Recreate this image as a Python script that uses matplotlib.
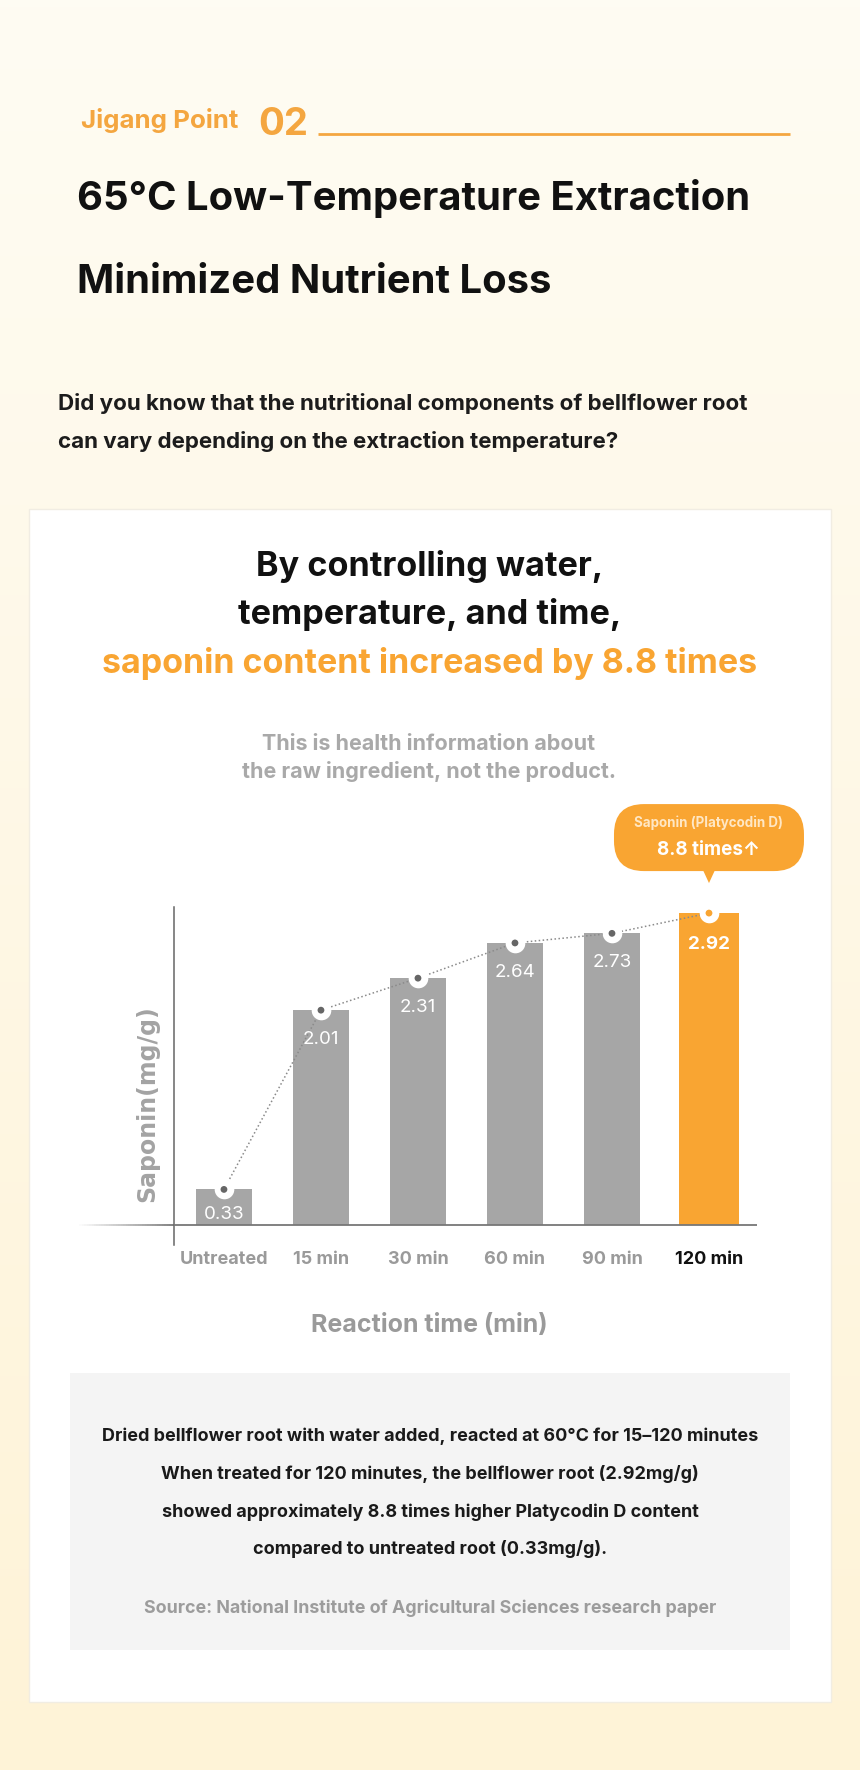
import matplotlib.pyplot as plt
import numpy as np
from matplotlib.collections import LineCollection
from matplotlib.colors import LinearSegmentedColormap, to_rgba
from matplotlib.patches import FancyBboxPatch, Polygon, Rectangle

# chart data
categories = ['Untreated', '15 min', '30 min', '60 min', '90 min', '120 min']
saponin = [0.33, 2.01, 2.31, 2.64, 2.73, 2.92]
highlight = '120 min'

# copy
kicker = 'Jigang Point'
point_no = '02'
title_lines = ['65°C Low-Temperature Extraction', 'Minimized Nutrient Loss']
question_lines = ['Did you know that the nutritional components of bellflower root',
                  'can vary depending on the extraction temperature?']
heading_lines = ['By controlling water,', 'temperature, and time,']
heading_accent = 'saponin content increased by 8.8 times'
note_lines = ['This is health information about', 'the raw ingredient, not the product.']
bubble_lines = ['Saponin (Platycodin D)', '8.8 times↑']
y_label = 'Saponin(mg/g)'
x_label = 'Reaction time (min)'
summary_lines = ['Dried bellflower root with water added, reacted at 60°C for 15–120 minutes',
                 'When treated for 120 minutes, the bellflower root (2.92mg/g)',
                 'showed approximately 8.8 times higher Platycodin D content',
                 'compared to untreated root (0.33mg/g).']
source = 'Source: National Institute of Agricultural Sciences research paper'

ORANGE = '#F9A532'
GRAY_BAR = '#A6A6A6'

plt.rcParams['font.family'] = ['Inter', 'DejaVu Sans']

W, H = 860, 1770
fig = plt.figure(figsize=(W / 100, H / 100), dpi=100)
renderer = fig.canvas.get_renderer()

bg = fig.add_axes([0, 0, 1, 1])
cream = LinearSegmentedColormap.from_list('cream', ['#FEFCF3', '#FEF3D7'])
bg.imshow(np.linspace(0, 1, 256)[:, None], cmap=cream, extent=(0, W, H, 0),
          aspect='auto', zorder=0)
bg.set_xlim(0, W)
bg.set_ylim(H, 0)
bg.axis('off')


def fit_size(s, width, **kw):
    # font size that gives the text the wanted pixel width
    t = bg.text(0, 0, s, fontsize=20, **kw)
    w = t.get_window_extent(renderer).width
    t.remove()
    return 20 * width / w


def text_block(lines, x, baselines, width, ref=0, **kw):
    size = fit_size(lines[ref], width, **kw)
    for line, y in zip(lines, baselines):
        bg.text(x, y, line, fontsize=size, va='baseline', **kw)


# header
text_block([kicker], 81, [128.3], 158, color='#F4A640', fontweight='bold')
text_block([point_no], 258, [135], 50, color='#F4A640', fontweight='bold')
bg.plot([318, 790], [133.5, 133.5], color='#F4A640', lw=2, solid_capstyle='butt')
text_block(title_lines, 77, [210, 293], 673, color='#111111', fontweight='bold')
text_block(question_lines, 58, [409.5, 448], 691, color='#1c1c1c', fontweight='bold')

# card
bg.add_patch(Rectangle((29, 509), 802, 1193, facecolor='white', edgecolor='#F1EDE3',
                       lw=1, zorder=1))
text_block(heading_lines, 430, [576, 624], 348, color='#111111', fontweight='bold',
           ha='center')
text_block([heading_accent], 430, [673], 657, color=ORANGE, fontweight='bold', ha='center')
text_block(note_lines, 429, [750, 778], 333, color='#A9A9A9', fontweight='bold', ha='center')

bg.add_patch(Rectangle((70, 1373), 720, 277, facecolor='#F4F4F4', edgecolor='none', zorder=1))
text_block(summary_lines, 430, [1441, 1479, 1517, 1554], 656, color='#1a1a1a',
           fontweight='bold', ha='center')
text_block([source], 430, [1613], 573, color='#9C9C9C', fontweight='bold', ha='center')

# chart
ax = fig.add_axes([174 / W, 1 - 1245 / H, 583 / W, 338 / H])
ax.set_facecolor('none')
x = np.arange(len(categories))
ax.set_xlim(-0.515, 5.495)
ax.set_ylim(-0.191, 2.977)

is_hi = [c == highlight for c in categories]
bar_colors = [ORANGE if h else GRAY_BAR for h in is_hi]
bar_widths = [0.61 if h else 0.58 for h in is_hi]
ax.bar(x, saponin, width=bar_widths, color=bar_colors, zorder=2)
ax.axhline(0, color='#777777', lw=1.3, zorder=3)

ax.plot(x, saponin, ls=(0, (1, 1.6)), color='#8a8a8a', lw=1.1, zorder=4)
ax.scatter(x, saponin, s=200, color='white', linewidths=0, zorder=5)
ax.scatter(x, saponin, s=24, color=[ORANGE if h else '#666666' for h in is_hi],
           linewidths=0, zorder=6)

px_unit = ax.transData.transform((0, 1))[1] - ax.transData.transform((0, 0))[1]
for xi, v, h in zip(x, saponin, is_hi):
    off = 36 if h else min(34, v * px_unit - 6)
    ax.annotate(f'{v:.2f}', (xi, v), xytext=(0, -off * 0.72), textcoords='offset points',
                ha='center', va='baseline', color='white', fontsize=13.5,
                fontweight='bold' if h else 'normal', zorder=7)

for side in ['top', 'right', 'bottom']:
    ax.spines[side].set_visible(False)
ax.spines['left'].set_color('#666666')
ax.spines['left'].set_linewidth(1.1)
ax.set_yticks([])
ax.set_xticks(x, categories)
ax.tick_params(axis='x', length=0, pad=4, labelsize=13, labelcolor='#9a9a9a')
for lab, h in zip(ax.get_xticklabels(), is_hi):
    lab.set_fontweight('bold')
    if h:
        lab.set_color('#111111')

ax.set_ylabel(y_label, fontsize=17, color='#A3A3A3', fontweight='bold',
              family=['DejaVu Sans'])
ax.yaxis.set_label_coords(-0.0463, 0.417)
ax.yaxis.label.set_va('center')
ax.yaxis.label.set_rotation_mode('anchor')
ax.set_xlabel(x_label, fontsize=18, color='#9a9a9a', fontweight='bold')
ax.xaxis.set_label_coords(0.438, -0.257)
ax.xaxis.label.set_va('baseline')

# fading left part of the baseline
y0 = H - ax.transData.transform((0, 0))[1]
x_left = ax.transData.transform((ax.get_xlim()[0], 0))[0]
xs = np.linspace(77, x_left, 41)
segs = [[(a, y0), (b, y0)] for a, b in zip(xs[:-1], xs[1:])]
fade = [to_rgba('#777777', a) for a in np.linspace(0, 1, 40)]
bg.add_collection(LineCollection(segs, colors=fade, linewidths=1.3, zorder=2))

# callout bubble over the highlighted bar
hi = is_hi.index(True)
tx, ty = ax.transData.transform((x[hi], saponin[hi]))
ty = H - ty
bg.add_patch(FancyBboxPatch((tx - 95, ty - 109), 190, 67,
                            boxstyle='round,pad=0,rounding_size=30',
                            facecolor=ORANGE, edgecolor='none', zorder=3))
bg.add_patch(Polygon([(tx - 6, ty - 43), (tx + 6, ty - 43), (tx, ty - 30)],
                     facecolor=ORANGE, edgecolor='none', zorder=3))
s1 = fit_size(bubble_lines[0], 149, fontweight='bold')
bg.text(tx, ty - 86, bubble_lines[0], fontsize=s1, color='#FFE7C4', fontweight='bold',
        ha='center', va='baseline', zorder=4)
s2 = fit_size(bubble_lines[1], 103, fontweight='bold')
bg.text(tx, ty - 57.6, bubble_lines[1], fontsize=s2, color='white', fontweight='bold',
        ha='center', va='baseline', zorder=4)

fig.savefig('out.png', dpi=100)
